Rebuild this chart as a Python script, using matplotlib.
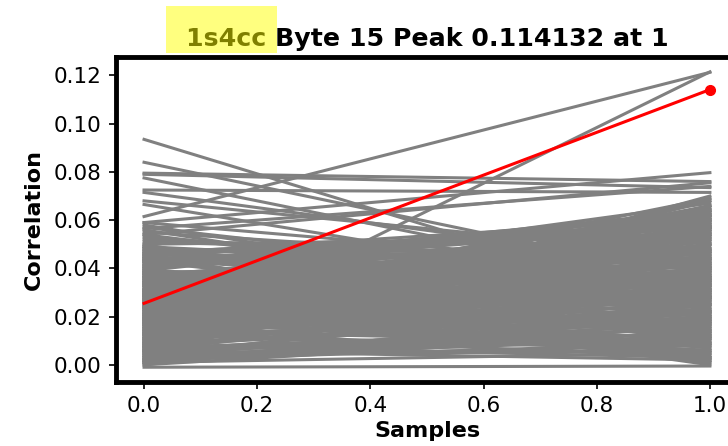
import numpy as np
import matplotlib
matplotlib.use("Agg")
import matplotlib.pyplot as plt
from matplotlib.patches import Rectangle

# Correlation of each wrong key guess at sample 0 and sample 1 (thousandths)
guess_start = [
    12, 45, 3, 28, 55, 7, 36, 19, 27, 24, 41, 2, 33, 15, 48,
    9, 27, 20, 38, 5, 21, 44, 13, 30, 31, 1, 39, 17, 50, 26,
    34, 8, 46, 22, 58, 11, 31, 4, 42, 18, 25, 29, 6, 37, 14,
    49, 23, 10, 40, 32, 18, 16, 0, 47, 25, 35, 20, 30, 3, 43,
    11, 53, 27, 6, 38, 19, 44, 31, 9, 13, 15, 36, 2, 48, 24,
    41, 13, 29, 8, 7, 33, 21, 24, 4, 39, 17, 45, 26, 10, 35,
    18, 19, 1, 30, 43, 12, 37, 23, 33, 8, 46, 28, 14, 40, 5,
    32, 20, 49, 16, 57, 25, 3, 42, 34, 11, 14, 22, 6, 38, 27,
    45, 9, 36, 14, 21, 2, 29, 47, 19, 31, 7, 43, 24, 34, 13,
    26, 39, 5, 29, 17, 35, 10, 44, 28, 52, 15, 33, 1, 41, 21,
    8, 30, 20, 23, 12, 46, 37, 4, 50, 18, 27, 59, 9, 34, 16,
    42, 25, 13, 38, 6, 17, 20, 31, 3, 47, 11, 40, 29, 28, 22,
    15, 49, 33, 2, 44, 26, 7, 36, 56, 19, 43, 10, 30, 5, 11,
    37, 14, 24, 9, 0, 32, 54, 17, 41, 8, 28, 45, 21, 35, 12,
    23, 18, 9, 39, 27, 4, 30, 16, 34, 43, 1, 25, 48, 13, 31,
    6, 40, 19, 21, 22, 44, 11, 29, 2, 36, 51, 18, 38, 7, 46,
]
guess_end = [
    66, 30, 8, 33, 40, 9, 62, 47, 25, 5, 57, 35, 14, 27, 18,
    43, 60, 34, 12, 25, 28, 51, 3, 38, 45, 16, 64, 37, 8, 53,
    26, 55, 61, 29, 20, 39, 7, 19, 48, 31, 2, 41, 50, 11, 58,
    38, 4, 23, 59, 29, 15, 44, 14, 54, 36, 1, 56, 41, 33, 21,
    52, 36, 13, 31, 46, 17, 27, 57, 19, 6, 62, 32, 20, 42, 10,
    60, 35, 39, 23, 13, 0, 66, 48, 6, 14, 53, 58, 44, 26, 30,
    8, 47, 18, 56, 17, 21, 41, 34, 26, 50, 3, 34, 22, 63, 17,
    28, 54, 12, 39, 31, 42, 16, 58, 2, 64, 43, 18, 70, 25, 50,
    27, 62, 55, 9, 37, 12, 24, 16, 30, 42, 33, 60, 5, 46, 57,
    37, 20, 40, 59, 11, 64, 68, 36, 1, 43, 55, 29, 22, 52, 22,
    3, 29, 24, 47, 61, 35, 13, 19, 53, 6, 57, 39, 69, 44, 21,
    63, 42, 33, 17, 56, 49, 32, 27, 11, 28, 65, 4, 51, 38, 60,
    45, 23, 36, 9, 34, 7, 15, 52, 19, 62, 48, 37, 15, 66, 31,
    56, 31, 3, 41, 25, 61, 25, 36, 64, 20, 48, 10, 40, 67, 54,
    65, 44, 59, 33, 35, 11, 12, 68, 54, 57, 5, 18, 46, 28, 62,
    2, 60, 50, 28, 69, 40, 63, 9, 14, 47, 44, 32, 22, 57, 58,
]

# Stand-out wrong guesses (correlation values)
outlier_start = [0.0935, 0.0840, 0.0795, 0.0790, 0.0775, 0.0725, 0.0715,
                 0.0680, 0.0665, 0.0615, 0.0060, 0.0590, 0.0565, 0.0540,
                 -0.0010]
outlier_end = [0.0220, 0.0350, 0.0760, 0.0735, 0.0300, 0.0715, 0.0400,
               0.0450, 0.0280, 0.1213, 0.1215, 0.0797, 0.0740, 0.0755,
               -0.0005]

# Best key guess
best_start = 0.0255
best_end = 0.114132

samples = [0, 1]

fig = plt.figure(figsize=(7.28, 4.46), dpi=100)
ax = fig.add_axes([0.159, 0.1435, 0.855, 0.7285])

for s, e in zip(guess_start, guess_end):
    ax.plot(samples, [s / 1000, e / 1000], color="grey", lw=2.2)
for s, e in zip(outlier_start, outlier_end):
    ax.plot(samples, [s, e], color="grey", lw=2.2)

ax.plot(samples, [best_start, best_end], color="red", lw=2.2)
ax.plot(samples[1], best_end, "o", color="red", ms=7)

for sp in ax.spines.values():
    sp.set_linewidth(3.5)
ax.tick_params(labelsize=15.5, width=1.2, length=5, pad=5)
ax.set_xlabel("Samples", fontsize=16, fontweight="bold")
ax.set_ylabel("Correlation", fontsize=16, fontweight="bold", labelpad=7)
ax.set_title("1s4cc Byte 15 Peak 0.114132 at 1", fontsize=18.2,
             fontweight="bold", pad=8)

# translucent highlighter mark over the trace name
fig.patches.append(Rectangle((0.228, 0.881), 0.1525, 0.105,
                             transform=fig.transFigure, facecolor="yellow",
                             alpha=0.5, edgecolor="none", zorder=10))

fig.savefig("out.png", dpi=100)
